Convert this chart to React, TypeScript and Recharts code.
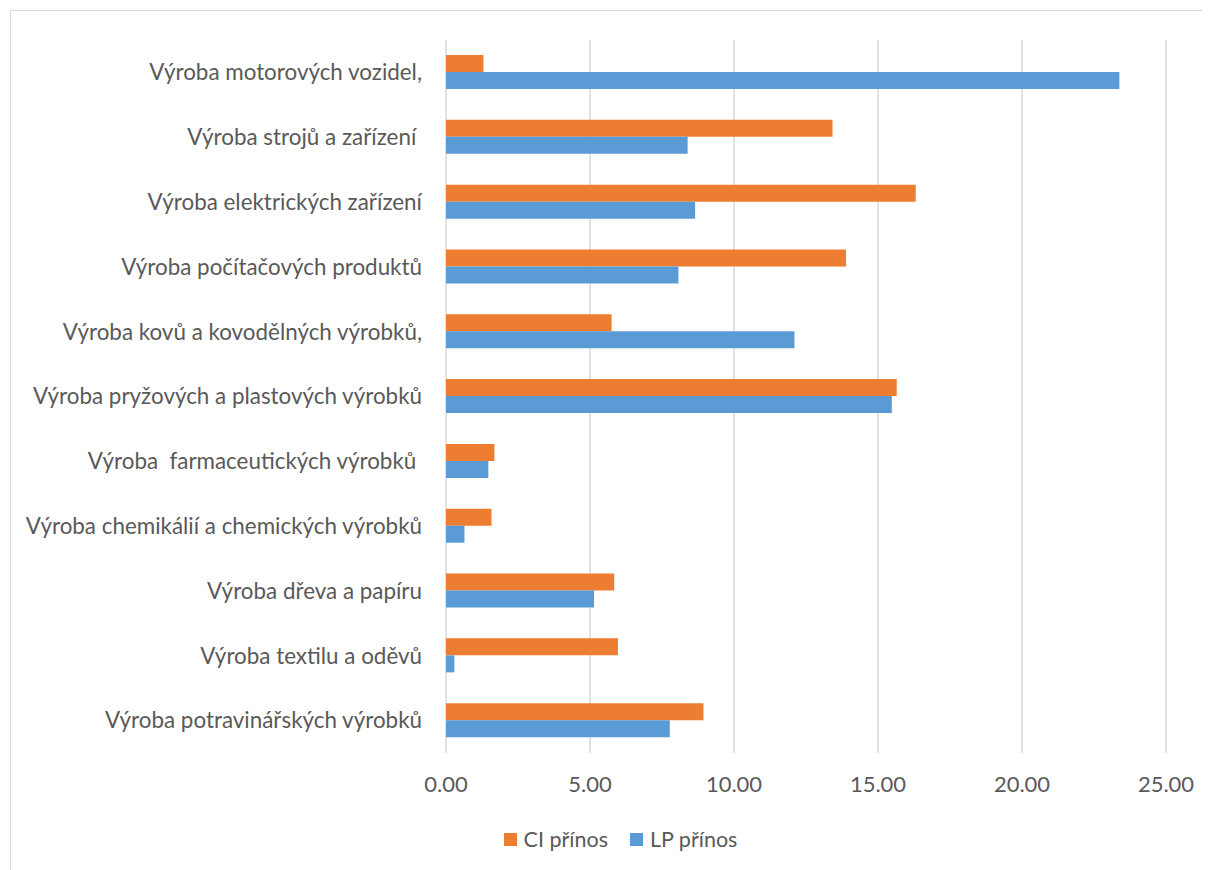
import { Bar, BarChart, CartesianGrid, Legend, XAxis, YAxis } from "recharts";

const categories = [
  "Výroba motorových vozidel,",
  "Výroba strojů a zařízení ",
  "Výroba elektrických zařízení",
  "Výroba počítačových produktů",
  "Výroba kovů a kovodělných výrobků,",
  "Výroba pryžových a plastových výrobků",
  "Výroba  farmaceutických výrobků ",
  "Výroba chemikálií a chemických výrobků",
  "Výroba dřeva a papíru",
  "Výroba textilu a oděvů",
  "Výroba potravinářských výrobků",
];

const ciValues = [1.3, 13.42, 16.31, 13.89, 5.75, 15.65, 1.68, 1.58, 5.84, 5.97, 8.94];
const lpValues = [23.38, 8.39, 8.65, 8.07, 12.1, 15.48, 1.47, 0.64, 5.14, 0.29, 7.77];

const xTicks = [0, 5, 10, 15, 20, 25];

const seriesNames = ["CI přínos", "LP přínos"];
const colors = ["#ED7D31", "#5B9BD5"];

const data = categories.map((name, i) => ({
  name,
  ci: ciValues[i],
  lp: lpValues[i],
}));

const FONT = "Lato, 'Open Sans', sans-serif";
const TEXT = "#595959";

function CategoryTick({ x, y, payload }: any) {
  return (
    <text
      x={x}
      y={y}
      dy="0.35em"
      textAnchor="end"
      fill={TEXT}
      fontFamily={FONT}
      fontSize={22.4}
      style={{ whiteSpace: "pre" }}
    >
      {payload.value}
    </text>
  );
}

function LegendContent() {
  return (
    <div
      style={{
        display: "flex",
        justifyContent: "center",
        alignItems: "center",
        gap: 22,
        height: 26,
        marginLeft: 64,
        fontFamily: FONT,
        fontSize: 21.5,
        color: TEXT,
      }}
    >
      {seriesNames.map((s, i) => (
        <div key={s} style={{ display: "flex", alignItems: "center", gap: 7 }}>
          <span style={{ width: 13, height: 13, background: colors[i], display: "inline-block" }} />
          <span>{s}</span>
        </div>
      ))}
    </div>
  );
}

export default function App() {
  return (
    <div
      style={{
        marginLeft: 2,
        marginTop: 2,
        width: 1220,
        height: 880,
        border: "1px solid #d9d9d9",
        boxSizing: "border-box",
      }}
    >
      <BarChart
        width={1200}
        height={860}
        data={data}
        layout="vertical"
        margin={{ top: 29, right: 45, bottom: 19, left: 0 }}
        barGap={0}
      >
        <CartesianGrid horizontal={false} stroke="#d9d9d9" strokeWidth={1.5} />
        <XAxis
          type="number"
          domain={[0, 25]}
          ticks={xTicks}
          tickFormatter={(v: number) => v.toFixed(2)}
          axisLine={false}
          tickLine={false}
          tickSize={0}
          tickMargin={23}
          height={73}
          tick={{ fill: TEXT, fontSize: 22, fontFamily: FONT }}
        />
        <YAxis
          type="category"
          dataKey="name"
          width={435}
          axisLine={false}
          tickLine={false}
          tickSize={0}
          tickMargin={24}
          interval={0}
          tick={<CategoryTick />}
        />
        <Legend verticalAlign="bottom" content={<LegendContent />} />
        <Bar dataKey="ci" name={seriesNames[0]} fill={colors[0]} barSize={17} isAnimationActive={false} />
        <Bar dataKey="lp" name={seriesNames[1]} fill={colors[1]} barSize={17} isAnimationActive={false} />
      </BarChart>
    </div>
  );
}
